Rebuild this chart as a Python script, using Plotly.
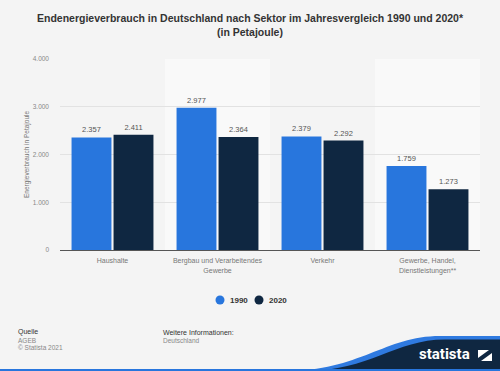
import plotly.graph_objects as go

categories = ["Haushalte", "Bergbau und Verarbeitendes<br>Gewerbe", "Verkehr",
              "Gewerbe, Handel,<br>Dienstleistungen**"]
values_1990 = [2357, 2977, 2379, 1759]
values_2020 = [2411, 2364, 2292, 1273]
series_names = ["1990", "2020"]
tick_values = [0, 1000, 2000, 3000, 4000]
tick_labels = ["0", "1.000", "2.000", "3.000", "4.000"]

C1990 = "#2876dd"
C2020 = "#0f2741"
BG = "#f4f4f4"
FONT = "Liberation Sans, Arial, sans-serif"

W, H = 500, 371
L, R, T, B = 60, 20, 59, 121
PW, PH = W - L - R, H - T - B


def px(x):
    return (x - L) / PW


def py(y):
    return 1 - (y - T) / PH


fig = go.Figure()
for name, vals, col in [(series_names[0], values_1990, C1990), (series_names[1], values_2020, C2020)]:
    fig.add_trace(go.Bar(
        x=categories, y=vals, name=name, marker_color=col, marker_line_width=0,
        texttemplate="%{y:,}", textposition="outside", cliponaxis=False,
        textfont=dict(size=7.5, color="#555", family=FONT), showlegend=False,
        hoverinfo="skip"))

shapes = []
for i in [1, 3]:
    shapes.append(dict(type="rect", xref="x", yref="y", x0=i - 0.5, x1=i + 0.5, y0=0, y1=4000,
                       fillcolor="#f9f9f9", line_width=0, layer="below"))

# legend (circles + labels)
annotations = []
legend_x = [220, 259]
for name, col, cx in zip(series_names, [C1990, C2020], legend_x):
    shapes.append(dict(type="circle", xref="paper", yref="paper",
                       x0=px(cx - 4.5), x1=px(cx + 4.5), y0=py(300 + 4.5), y1=py(300 - 4.5),
                       fillcolor=col, line_width=0))
    annotations.append(dict(text=f"<b>{name}</b>", x=px(cx + 8), y=py(300), xref="paper", yref="paper",
                            showarrow=False, xanchor="left", yanchor="middle",
                            font=dict(size=8, color="#333", family=FONT)))

blue_wave = (f"M {px(285)},{py(371)} C {px(360)},{py(371)} {px(385)},{py(336)} {px(440)},{py(336)} "
             f"L {px(500)},{py(336)} L {px(500)},{py(371)} Z")
dark_wave = (f"M {px(305)},{py(371)} C {px(370)},{py(371)} {px(395)},{py(339.5)} {px(445)},{py(339.5)} "
             f"L {px(500)},{py(339.5)} L {px(500)},{py(371)} Z")
shapes.append(dict(type="path", xref="paper", yref="paper", path=blue_wave,
                   fillcolor="#2f7ae0", line_width=0, layer="above"))
shapes.append(dict(type="path", xref="paper", yref="paper", path=dark_wave,
                   fillcolor=C2020, line_width=0, layer="above"))
shapes.append(dict(type="rect", xref="paper", yref="paper", x0=px(0), x1=px(500), y0=py(371), y1=py(369),
                   fillcolor="#2876dd", line_width=0, layer="above"))
icon = (f"M {px(478)},{py(350)} L {px(492)},{py(350)} L {px(492)},{py(361)} L {px(478)},{py(361)} Z")
shapes.append(dict(type="path", xref="paper", yref="paper", path=icon,
                   fillcolor="white", line_width=0, layer="above"))
diag = (f"M {px(478)},{py(358)} L {px(489)},{py(350)} L {px(492)},{py(350)} L {px(492)},{py(353)} "
        f"L {px(481)},{py(361)} L {px(478)},{py(361)} Z")
shapes.append(dict(type="path", xref="paper", yref="paper", path=diag,
                   fillcolor=C2020, line_width=0, layer="above"))

annotations += [
    dict(text="<b>Endenergieverbrauch in Deutschland nach Sektor im Jahresvergleich 1990 und 2020*<br>(in Petajoule)</b>",
         x=px(250), y=py(25), xref="paper", yref="paper", showarrow=False,
         font=dict(size=10.5, color="#333", family=FONT), align="center",
         xanchor="center", yanchor="middle"),
    dict(text="Energieverbrauch in Petajoule", x=px(27), y=py(155), xref="paper", yref="paper",
         showarrow=False, textangle=-90, font=dict(size=6.5, color="#777", family=FONT),
         xanchor="center", yanchor="middle"),
    dict(text="Quelle", x=px(16), y=py(332), xref="paper", yref="paper", showarrow=False,
         xanchor="left", yanchor="middle", font=dict(size=7, color="#333", family=FONT)),
    dict(text="AGEB", x=px(16), y=py(340), xref="paper", yref="paper", showarrow=False,
         xanchor="left", yanchor="middle", font=dict(size=6.5, color="#888", family=FONT)),
    dict(text="© Statista 2021", x=px(16), y=py(347.5), xref="paper", yref="paper", showarrow=False,
         xanchor="left", yanchor="middle", font=dict(size=6.5, color="#888", family=FONT)),
    dict(text="Weitere Informationen:", x=px(161), y=py(332), xref="paper", yref="paper", showarrow=False,
         xanchor="left", yanchor="middle", font=dict(size=7, color="#333", family=FONT)),
    dict(text="Deutschland", x=px(161), y=py(340), xref="paper", yref="paper", showarrow=False,
         xanchor="left", yanchor="middle", font=dict(size=6.5, color="#888", family=FONT)),
    dict(text="<b>statista</b>", x=px(444), y=py(354), xref="paper", yref="paper", showarrow=False,
         xanchor="center", yanchor="middle", font=dict(size=15, color="white", family="Roboto, Open Sans, sans-serif")),
]

fig.update_layout(
    width=W, height=H, margin=dict(l=L, r=R, t=T, b=B, autoexpand=False),
    paper_bgcolor=BG, plot_bgcolor=BG,
    separators=",.",
    barmode="group", bargap=0.2, bargroupgap=0.05,
    font=dict(family=FONT),
    shapes=shapes, annotations=annotations,
    showlegend=False,
)
fig.update_xaxes(showgrid=False, showline=True, linecolor="#555", linewidth=1,
                 tickfont=dict(size=7, color="#777", family=FONT), ticks="", range=[-0.5, 3.5],
                 ticklabelstandoff=4)
fig.update_yaxes(range=[0, 4000], tickvals=tick_values, ticktext=tick_labels, showgrid=True,
                 gridcolor="#e2e2e2", gridwidth=1, zeroline=False, showline=False,
                 tickfont=dict(size=6.5, color="#888", family=FONT), ticks="", ticklabelstandoff=10)

fig.write_html("out.html", config={"displayModeBar": False},
               post_script="document.body.style.margin='0';document.body.style.background='#f4f4f4';")
